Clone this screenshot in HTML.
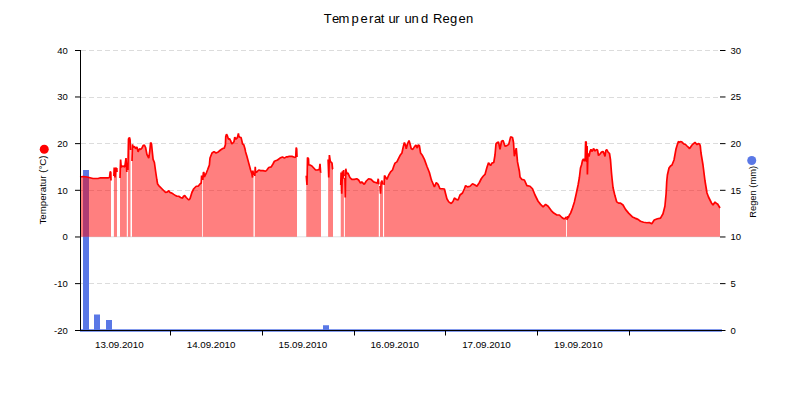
<!DOCTYPE html>
<html><head><meta charset="utf-8"><style>
html,body{margin:0;padding:0;background:#fff;width:800px;height:400px;overflow:hidden}
svg{display:block}
text{font-family:"Liberation Sans",sans-serif}
</style></head><body>
<svg width="800" height="400" viewBox="0 0 800 400">
<rect width="800" height="400" fill="#fff"/>
<text y="22.6" font-size="13" font-family="Liberation Sans, sans-serif" fill="#000"><tspan x="323.7">T</tspan><tspan x="332">e</tspan><tspan x="338.6">m</tspan><tspan x="351.6">p</tspan><tspan x="360.5">e</tspan><tspan x="369.1">r</tspan><tspan x="374">a</tspan><tspan x="380.8">t</tspan><tspan x="388.6">u</tspan><tspan x="395.3">r</tspan><tspan x="404.6">u</tspan><tspan x="411.6">n</tspan><tspan x="421.1">d</tspan><tspan x="433">R</tspan><tspan x="442.5">e</tspan><tspan x="450.1">g</tspan><tspan x="458.5">e</tspan><tspan x="466.1">n</tspan></text>
<line x1="81" y1="50.5" x2="720" y2="50.5" stroke="#dcdcdc" stroke-width="1" stroke-dasharray="5 3"/>
<line x1="81" y1="97.5" x2="720" y2="97.5" stroke="#dcdcdc" stroke-width="1" stroke-dasharray="5 3"/>
<line x1="81" y1="143.5" x2="720" y2="143.5" stroke="#dcdcdc" stroke-width="1" stroke-dasharray="5 3"/>
<line x1="81" y1="190.5" x2="720" y2="190.5" stroke="#dcdcdc" stroke-width="1" stroke-dasharray="5 3"/>
<line x1="81" y1="283.5" x2="720" y2="283.5" stroke="#dcdcdc" stroke-width="1" stroke-dasharray="5 3"/>
<line x1="81" y1="236.8" x2="720" y2="236.8" stroke="#dfe2e3" stroke-width="1"/>
<rect x="83" y="170" width="6" height="160.5" fill="#5a78e6"/>
<rect x="94" y="314.5" width="6" height="16" fill="#5a78e6"/>
<rect x="106" y="320" width="6" height="10.5" fill="#5a78e6"/>
<rect x="323" y="325.25" width="6" height="5.25" fill="#5a78e6"/>
<line x1="80" y1="330.5" x2="722" y2="330.5" stroke="#5a78e6" stroke-width="2.6"/>
<path d="M80 236.67 L80 177 L83 176.5 L87 177 L89 177.5 L91 178 L93 178.5 L98 178.5 L100.5 177.8 L103 177.8 L108 177.8 L109.5 177.5 L110.2 171.5 L110.8 172.5 L111 180.5 L111 236.67 Z M113.9 236.67 L113.9 176 L114.2 167.5 L115 177.5 L115.8 167.5 L116.5 170 L116.8 168 L117 172 L117 236.67 Z M120 236.67 L120 178 L120.6 159.5 L121.2 167 L123 166 L124.75 167 L126 158 L126.8 172 L126.8 236.67 Z M127.9 236.67 L127.9 170 L128.5 139 L129.5 137.5 L130.1 140 L130.5 150 L130.5 236.67 Z M132 236.67 L132 161 L132.5 144.4 L133.1 147.5 L134.4 146.25 L135.6 148.75 L136.9 146.9 L138.1 151.9 L139.4 148.75 L140.6 149.4 L141.9 148.1 L143.1 145.6 L144.4 145 L145.6 147.5 L146.9 154.4 L148.75 158.1 L149.75 151.25 L150.6 142.5 L151.5 143.75 L152.25 151.25 L153.1 159.4 L154.4 162.5 L155.6 171.25 L156.9 180 L157.6 184 L158.75 185.6 L161.9 188.75 L164.4 191.25 L165.6 192.5 L167.5 191.9 L168.75 190.6 L170 192.5 L171.9 193.1 L173.75 194.4 L175.6 195.6 L176.9 196.25 L178.75 196.25 L180.6 197.5 L182.5 198.1 L183.5 196.25 L184.75 195.6 L186.25 197.5 L188.75 200 L190 198.75 L191.9 192.5 L193.75 188.75 L196.25 186.25 L198.1 186.25 L199.8 184.2 L201.2 183 L201.6 175.5 L202 178 L202 236.67 Z M202.8 236.67 L202.8 180 L203.4 172.2 L204 172.8 L204.3 177 L204.9 175.8 L206.4 172.8 L207.6 169.8 L208.5 167.4 L209.4 165 L210 158 L212 153 L214 151.6 L216 153 L218.25 151.9 L220.5 150 L222.75 148.5 L224.25 148.1 L225.4 144.75 L225.75 136.5 L226.5 134.25 L227.25 135.4 L228.4 139.1 L229.5 138.75 L230.6 140.6 L231.75 144 L232.9 142.9 L234 141.75 L234.75 137.25 L235.9 139.1 L237.4 137.6 L238.4 133.5 L238.9 136.5 L240 137.25 L241.1 137.6 L242.6 144 L243.75 144.75 L244.9 148.5 L245.6 151.9 L246.9 156.25 L248.75 163.1 L250.6 170 L251.9 173.75 L252.5 177.5 L252.9 170.6 L253.5 175 L253.5 236.67 Z M254.8 236.67 L254.8 176 L255.25 166.9 L255.6 172.5 L256.9 171.9 L258.75 170 L260.6 170.6 L263.1 170.6 L265.6 171.25 L266.9 170 L268.75 167.5 L271.25 166.9 L273.1 163.75 L274.4 161.25 L277.5 160 L280 158.1 L282.5 156.9 L284.4 158.1 L286.25 156.9 L287.5 156.9 L289.4 156.25 L292 156.4 L293.75 157 L295.3 157.5 L295.8 155.6 L296.2 147.5 L296.7 149 L297 157 L297 236.67 Z M306.25 236.67 L306.25 175.6 L307 185 L307.5 157.5 L308.5 158.75 L308.75 165 L310 165 L311.9 166 L313.75 168 L315.6 170 L317.5 170 L319.4 169.4 L320 163.75 L320.6 172.5 L321 172 L321 236.67 Z M328.1 236.67 L328.1 159.4 L328.75 177.5 L329.4 155 L330.25 161 L331.25 162.5 L332 163 L332.6 169 L333 169 L333 236.67 Z M340.75 236.67 L340.75 185 L341.1 172.5 L341.75 193.75 L342.4 171.25 L343 178.75 L343.6 170 L343.9 176 L343.9 236.67 Z M344.9 236.67 L344.9 178 L345.25 197.5 L345.75 168.75 L346.75 173.75 L348 173.1 L349.9 177.5 L351.75 179.4 L354.25 179.4 L356.75 178.75 L358.6 180 L360.5 183.1 L361.75 181.9 L364.25 184.4 L366.1 181.25 L368.6 178.75 L371.1 179.4 L373.6 181.9 L375.5 182.5 L377.4 183.1 L378.25 178.75 L378.8 184.4 L378.8 236.67 Z M380 236.67 L380 186 L380.5 193.75 L381.1 182.5 L382 180.6 L382.4 183.75 L383 184 L383 236.67 Z M384.1 236.67 L384.1 185 L384.5 175.6 L385 176.25 L386.9 179.4 L388.75 175 L390.6 171.9 L392.5 170 L393.75 166.25 L395 163.1 L396.9 161.9 L398.1 159.4 L400 155.6 L401.9 153.1 L403.1 147.5 L404.4 142.5 L405.6 145.6 L406.25 148.75 L407.5 143.75 L409 140.6 L410 143.75 L411.25 148.75 L412.75 149.4 L414.4 146.9 L416 145 L417.25 148.1 L418.1 145 L419.4 145.6 L420.6 153.1 L422.5 155.6 L424.4 159.4 L426.9 166.25 L429.4 172.5 L431.25 179.4 L431.9 181 L434.4 187 L436.25 182.5 L438.1 184.4 L440 188.75 L442.5 188.75 L444.4 189 L445.6 193.75 L446.9 198.75 L448.75 201.9 L451.25 203.5 L453.1 201.25 L454.4 198 L456.25 199.4 L458.1 200 L460 195 L462.5 193 L464.4 188.75 L465.6 185.6 L467.5 186.9 L470 186.25 L472.5 183.75 L475 185 L476.9 186.25 L479.4 182.5 L481.25 178.75 L483.1 176.25 L485 174.4 L486.9 167.5 L488.5 162.75 L490.6 165.6 L491.9 163.1 L493.75 162.5 L495 155 L496 143.75 L497.5 142.5 L498.5 141.9 L500 149.4 L501.5 141.25 L503.1 140.6 L505 146.25 L506.9 145.6 L508.75 144.4 L510.6 136.9 L512.5 137.5 L513.5 142.5 L514.4 156.25 L516.25 148.1 L517.5 161.9 L519.4 171.25 L520 176.9 L521.9 179.4 L524.4 180 L526.9 185.6 L530 186.25 L532.5 188.75 L535 195 L538.1 201.25 L540.6 204.4 L543.1 206.9 L545.6 204.4 L548.1 206.25 L551.25 210.6 L553.75 213.1 L556.9 215 L559.4 215 L561.9 217.5 L563.75 218.75 L565 218.75 L566 216.9 L566 236.67 Z M566.9 236.67 L566.9 220 L567.5 216.25 L568.1 218.1 L569.4 215 L570.6 213.1 L572.5 208.1 L574.4 201.9 L576.25 193.75 L578.1 185 L579.4 177.5 L580.5 168 L581.5 165 L582.5 160.5 L583.5 159 L584.5 161 L585.2 160 L585.6 141.6 L586.2 142 L586.6 162 L587.1 146 L587.4 174.6 L587.9 153.5 L589 156.5 L590 151.5 L591 149.5 L592.2 151.5 L593.5 148.5 L595 151 L596.5 149.5 L597.5 150 L598.5 155.5 L600 154 L601.5 152 L603 151.5 L604 153.5 L605 156.5 L605.8 150.5 L606.8 149.5 L608 152 L609.5 153.5 L610.5 160 L611.5 173 L612.2 180 L613 187.5 L614.9 195.6 L616.75 201.9 L618.6 203.1 L620.5 203.1 L623 205 L625.5 209.4 L628.6 213.1 L632.4 216.9 L634.9 218.1 L638 219.4 L640.5 221.25 L643.6 222.25 L646.75 222.75 L649.25 222.5 L651.75 223.75 L654.25 220 L657.4 218.75 L660.5 218.1 L663 213.75 L664.9 206.25 L666.1 193.75 L666.75 181.25 L667.4 175 L669 168 L670.5 166 L672 165 L674 160 L676 149 L677.2 145 L678.4 141.5 L679.5 142.5 L680.5 141.5 L682 142 L683 143.2 L684 144 L685.5 144.5 L687 146 L688.5 147.4 L689.6 148.6 L691 146.5 L692 145 L693.5 143.6 L695 142.4 L696 143.5 L697 144.6 L698.2 143.6 L699.6 144 L700.3 146 L701 153 L703 165 L705 181 L707 193 L708.5 197 L710 200 L711.5 203 L713 205 L714 203.5 L715 202 L716.5 203.5 L717.6 204 L720 208 L720 236.67 Z" fill="rgba(255,0,0,0.5)"/>
<path d="M80 177 L83 176.5 L87 177 L89 177.5 L91 178 L93 178.5 L98 178.5 L100.5 177.8 L103 177.8 L108 177.8 L109.5 177.5 L110.2 171.5 L110.8 172.5 L111 180.5 M113.9 176 L114.2 167.5 L115 177.5 L115.8 167.5 L116.5 170 L116.8 168 L117 172 M120 178 L120.6 159.5 L121.2 167 L123 166 L124.75 167 L126 158 L126.8 172 M127.9 170 L128.5 139 L129.5 137.5 L130.1 140 L130.5 150 M132 161 L132.5 144.4 L133.1 147.5 L134.4 146.25 L135.6 148.75 L136.9 146.9 L138.1 151.9 L139.4 148.75 L140.6 149.4 L141.9 148.1 L143.1 145.6 L144.4 145 L145.6 147.5 L146.9 154.4 L148.75 158.1 L149.75 151.25 L150.6 142.5 L151.5 143.75 L152.25 151.25 L153.1 159.4 L154.4 162.5 L155.6 171.25 L156.9 180 L157.6 184 L158.75 185.6 L161.9 188.75 L164.4 191.25 L165.6 192.5 L167.5 191.9 L168.75 190.6 L170 192.5 L171.9 193.1 L173.75 194.4 L175.6 195.6 L176.9 196.25 L178.75 196.25 L180.6 197.5 L182.5 198.1 L183.5 196.25 L184.75 195.6 L186.25 197.5 L188.75 200 L190 198.75 L191.9 192.5 L193.75 188.75 L196.25 186.25 L198.1 186.25 L199.8 184.2 L201.2 183 L201.6 175.5 L202 178 M202.8 180 L203.4 172.2 L204 172.8 L204.3 177 L204.9 175.8 L206.4 172.8 L207.6 169.8 L208.5 167.4 L209.4 165 L210 158 L212 153 L214 151.6 L216 153 L218.25 151.9 L220.5 150 L222.75 148.5 L224.25 148.1 L225.4 144.75 L225.75 136.5 L226.5 134.25 L227.25 135.4 L228.4 139.1 L229.5 138.75 L230.6 140.6 L231.75 144 L232.9 142.9 L234 141.75 L234.75 137.25 L235.9 139.1 L237.4 137.6 L238.4 133.5 L238.9 136.5 L240 137.25 L241.1 137.6 L242.6 144 L243.75 144.75 L244.9 148.5 L245.6 151.9 L246.9 156.25 L248.75 163.1 L250.6 170 L251.9 173.75 L252.5 177.5 L252.9 170.6 L253.5 175 M254.8 176 L255.25 166.9 L255.6 172.5 L256.9 171.9 L258.75 170 L260.6 170.6 L263.1 170.6 L265.6 171.25 L266.9 170 L268.75 167.5 L271.25 166.9 L273.1 163.75 L274.4 161.25 L277.5 160 L280 158.1 L282.5 156.9 L284.4 158.1 L286.25 156.9 L287.5 156.9 L289.4 156.25 L292 156.4 L293.75 157 L295.3 157.5 L295.8 155.6 L296.2 147.5 L296.7 149 L297 157 M306.25 175.6 L307 185 L307.5 157.5 L308.5 158.75 L308.75 165 L310 165 L311.9 166 L313.75 168 L315.6 170 L317.5 170 L319.4 169.4 L320 163.75 L320.6 172.5 L321 172 M328.1 159.4 L328.75 177.5 L329.4 155 L330.25 161 L331.25 162.5 L332 163 L332.6 169 L333 169 M340.75 185 L341.1 172.5 L341.75 193.75 L342.4 171.25 L343 178.75 L343.6 170 L343.9 176 M344.9 178 L345.25 197.5 L345.75 168.75 L346.75 173.75 L348 173.1 L349.9 177.5 L351.75 179.4 L354.25 179.4 L356.75 178.75 L358.6 180 L360.5 183.1 L361.75 181.9 L364.25 184.4 L366.1 181.25 L368.6 178.75 L371.1 179.4 L373.6 181.9 L375.5 182.5 L377.4 183.1 L378.25 178.75 L378.8 184.4 M380 186 L380.5 193.75 L381.1 182.5 L382 180.6 L382.4 183.75 L383 184 M384.1 185 L384.5 175.6 L385 176.25 L386.9 179.4 L388.75 175 L390.6 171.9 L392.5 170 L393.75 166.25 L395 163.1 L396.9 161.9 L398.1 159.4 L400 155.6 L401.9 153.1 L403.1 147.5 L404.4 142.5 L405.6 145.6 L406.25 148.75 L407.5 143.75 L409 140.6 L410 143.75 L411.25 148.75 L412.75 149.4 L414.4 146.9 L416 145 L417.25 148.1 L418.1 145 L419.4 145.6 L420.6 153.1 L422.5 155.6 L424.4 159.4 L426.9 166.25 L429.4 172.5 L431.25 179.4 L431.9 181 L434.4 187 L436.25 182.5 L438.1 184.4 L440 188.75 L442.5 188.75 L444.4 189 L445.6 193.75 L446.9 198.75 L448.75 201.9 L451.25 203.5 L453.1 201.25 L454.4 198 L456.25 199.4 L458.1 200 L460 195 L462.5 193 L464.4 188.75 L465.6 185.6 L467.5 186.9 L470 186.25 L472.5 183.75 L475 185 L476.9 186.25 L479.4 182.5 L481.25 178.75 L483.1 176.25 L485 174.4 L486.9 167.5 L488.5 162.75 L490.6 165.6 L491.9 163.1 L493.75 162.5 L495 155 L496 143.75 L497.5 142.5 L498.5 141.9 L500 149.4 L501.5 141.25 L503.1 140.6 L505 146.25 L506.9 145.6 L508.75 144.4 L510.6 136.9 L512.5 137.5 L513.5 142.5 L514.4 156.25 L516.25 148.1 L517.5 161.9 L519.4 171.25 L520 176.9 L521.9 179.4 L524.4 180 L526.9 185.6 L530 186.25 L532.5 188.75 L535 195 L538.1 201.25 L540.6 204.4 L543.1 206.9 L545.6 204.4 L548.1 206.25 L551.25 210.6 L553.75 213.1 L556.9 215 L559.4 215 L561.9 217.5 L563.75 218.75 L565 218.75 L566 216.9 M566.9 220 L567.5 216.25 L568.1 218.1 L569.4 215 L570.6 213.1 L572.5 208.1 L574.4 201.9 L576.25 193.75 L578.1 185 L579.4 177.5 L580.5 168 L581.5 165 L582.5 160.5 L583.5 159 L584.5 161 L585.2 160 L585.6 141.6 L586.2 142 L586.6 162 L587.1 146 L587.4 174.6 L587.9 153.5 L589 156.5 L590 151.5 L591 149.5 L592.2 151.5 L593.5 148.5 L595 151 L596.5 149.5 L597.5 150 L598.5 155.5 L600 154 L601.5 152 L603 151.5 L604 153.5 L605 156.5 L605.8 150.5 L606.8 149.5 L608 152 L609.5 153.5 L610.5 160 L611.5 173 L612.2 180 L613 187.5 L614.9 195.6 L616.75 201.9 L618.6 203.1 L620.5 203.1 L623 205 L625.5 209.4 L628.6 213.1 L632.4 216.9 L634.9 218.1 L638 219.4 L640.5 221.25 L643.6 222.25 L646.75 222.75 L649.25 222.5 L651.75 223.75 L654.25 220 L657.4 218.75 L660.5 218.1 L663 213.75 L664.9 206.25 L666.1 193.75 L666.75 181.25 L667.4 175 L669 168 L670.5 166 L672 165 L674 160 L676 149 L677.2 145 L678.4 141.5 L679.5 142.5 L680.5 141.5 L682 142 L683 143.2 L684 144 L685.5 144.5 L687 146 L688.5 147.4 L689.6 148.6 L691 146.5 L692 145 L693.5 143.6 L695 142.4 L696 143.5 L697 144.6 L698.2 143.6 L699.6 144 L700.3 146 L701 153 L703 165 L705 181 L707 193 L708.5 197 L710 200 L711.5 203 L713 205 L714 203.5 L715 202 L716.5 203.5 L717.6 204 L720 208" fill="none" stroke="#f00" stroke-width="1.7" stroke-linejoin="bevel"/>
<line x1="80.5" y1="50" x2="80.5" y2="331" stroke="#000" stroke-width="1"/>
<line x1="80" y1="330.5" x2="721.5" y2="330.5" stroke="#000" stroke-width="1.2"/>
<line x1="75" y1="50.5" x2="80.5" y2="50.5" stroke="#000" stroke-width="1"/>
<line x1="720" y1="50.5" x2="725.5" y2="50.5" stroke="#000" stroke-width="1"/>
<text x="67.8" y="53.7" text-anchor="end" font-size="9.5" font-family="Liberation Sans, sans-serif">40</text>
<text x="730.4" y="53.7" text-anchor="start" font-size="9.5" font-family="Liberation Sans, sans-serif">30</text>
<line x1="75" y1="96.97" x2="80.5" y2="96.97" stroke="#000" stroke-width="1"/>
<line x1="720" y1="96.97" x2="725.5" y2="96.97" stroke="#000" stroke-width="1"/>
<text x="67.8" y="100.37" text-anchor="end" font-size="9.5" font-family="Liberation Sans, sans-serif">30</text>
<text x="730.4" y="100.37" text-anchor="start" font-size="9.5" font-family="Liberation Sans, sans-serif">25</text>
<line x1="75" y1="143.63" x2="80.5" y2="143.63" stroke="#000" stroke-width="1"/>
<line x1="720" y1="143.63" x2="725.5" y2="143.63" stroke="#000" stroke-width="1"/>
<text x="67.8" y="147.03" text-anchor="end" font-size="9.5" font-family="Liberation Sans, sans-serif">20</text>
<text x="730.4" y="147.03" text-anchor="start" font-size="9.5" font-family="Liberation Sans, sans-serif">20</text>
<line x1="75" y1="190.3" x2="80.5" y2="190.3" stroke="#000" stroke-width="1"/>
<line x1="720" y1="190.3" x2="725.5" y2="190.3" stroke="#000" stroke-width="1"/>
<text x="67.8" y="193.7" text-anchor="end" font-size="9.5" font-family="Liberation Sans, sans-serif">10</text>
<text x="730.4" y="193.7" text-anchor="start" font-size="9.5" font-family="Liberation Sans, sans-serif">15</text>
<line x1="75" y1="236.97" x2="80.5" y2="236.97" stroke="#000" stroke-width="1"/>
<line x1="720" y1="236.97" x2="725.5" y2="236.97" stroke="#000" stroke-width="1"/>
<text x="67.8" y="240.37" text-anchor="end" font-size="9.5" font-family="Liberation Sans, sans-serif">0</text>
<text x="730.4" y="240.37" text-anchor="start" font-size="9.5" font-family="Liberation Sans, sans-serif">10</text>
<line x1="75" y1="283.63" x2="80.5" y2="283.63" stroke="#000" stroke-width="1"/>
<line x1="720" y1="283.63" x2="725.5" y2="283.63" stroke="#000" stroke-width="1"/>
<text x="67.8" y="287.03" text-anchor="end" font-size="9.5" font-family="Liberation Sans, sans-serif">-10</text>
<text x="730.4" y="287.03" text-anchor="start" font-size="9.5" font-family="Liberation Sans, sans-serif">5</text>
<line x1="75" y1="330.5" x2="80.5" y2="330.5" stroke="#000" stroke-width="1"/>
<line x1="720" y1="330.5" x2="725.5" y2="330.5" stroke="#000" stroke-width="1"/>
<text x="67.8" y="333.7" text-anchor="end" font-size="9.5" font-family="Liberation Sans, sans-serif">-20</text>
<text x="730.4" y="333.7" text-anchor="start" font-size="9.5" font-family="Liberation Sans, sans-serif">0</text>
<line x1="170.5" y1="330" x2="170.5" y2="335.5" stroke="#000" stroke-width="1"/>
<line x1="262.5" y1="330" x2="262.5" y2="335.5" stroke="#000" stroke-width="1"/>
<line x1="354.5" y1="330" x2="354.5" y2="335.5" stroke="#000" stroke-width="1"/>
<line x1="445.5" y1="330" x2="445.5" y2="335.5" stroke="#000" stroke-width="1"/>
<line x1="537.5" y1="330" x2="537.5" y2="335.5" stroke="#000" stroke-width="1"/>
<line x1="629.5" y1="330" x2="629.5" y2="335.5" stroke="#000" stroke-width="1"/>
<text x="95" y="347.8" font-size="9.8" textLength="48.6" lengthAdjust="spacing" font-family="Liberation Sans, sans-serif">13.09.2010</text>
<text x="186.8" y="347.8" font-size="9.8" textLength="48.6" lengthAdjust="spacing" font-family="Liberation Sans, sans-serif">14.09.2010</text>
<text x="278.6" y="347.8" font-size="9.8" textLength="48.6" lengthAdjust="spacing" font-family="Liberation Sans, sans-serif">15.09.2010</text>
<text x="370.4" y="347.8" font-size="9.8" textLength="48.6" lengthAdjust="spacing" font-family="Liberation Sans, sans-serif">16.09.2010</text>
<text x="462.2" y="347.8" font-size="9.8" textLength="48.6" lengthAdjust="spacing" font-family="Liberation Sans, sans-serif">17.09.2010</text>
<text x="554" y="347.8" font-size="9.8" textLength="48.6" lengthAdjust="spacing" font-family="Liberation Sans, sans-serif">19.09.2010</text>
<circle cx="44.25" cy="149.25" r="4.5" fill="#f00"/>
<circle cx="751.75" cy="160.5" r="4.5" fill="#5a78e6"/>
<text transform="translate(45.8 190) rotate(-90)" text-anchor="middle" font-size="9.6" textLength="69" lengthAdjust="spacingAndGlyphs" font-family="Liberation Sans, sans-serif">Temperatur (°C)</text>
<text transform="translate(755.9 191.8) rotate(-90)" text-anchor="middle" font-size="9.6" textLength="52" lengthAdjust="spacingAndGlyphs" font-family="Liberation Sans, sans-serif">Regen (mm)</text>
</svg>
</body></html>
